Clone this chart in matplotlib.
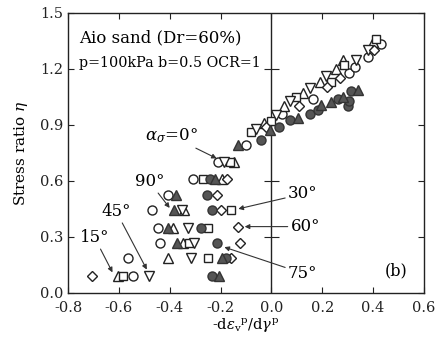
import matplotlib
matplotlib.use("Agg")
import matplotlib.pyplot as plt

plt.rcParams['font.family'] = ['DejaVu Serif']
plt.rcParams['mathtext.fontset'] = 'dejavuserif'

# Series: loading direction alpha_sigma
s0_x = [-0.545, -0.563, -0.438, -0.447, -0.470, -0.405, -0.310, -0.209,
        -0.098, 0.040, 0.163, 0.307, 0.327, 0.380, 0.430]
s0_y = [0.093, 0.185, 0.266, 0.350, 0.444, 0.524, 0.610, 0.700,
        0.790, 0.960, 1.040, 1.175, 1.210, 1.265, 1.335]

s15_x = [-0.604, -0.408, -0.346, -0.388, -0.345, -0.196, -0.146,
         -0.030, 0.050, 0.125, 0.190, 0.255, 0.280, 0.400]
s15_y = [0.093, 0.185, 0.266, 0.350, 0.444, 0.610, 0.700,
         0.910, 1.000, 1.070, 1.130, 1.200, 1.245, 1.345]

s30_x = [-0.585, -0.248, -0.324, -0.248, -0.157, -0.268, -0.164,
         -0.080, 0.000, 0.098, 0.235, 0.285, 0.410]
s30_y = [0.093, 0.185, 0.266, 0.350, 0.444, 0.610, 0.700,
         0.860, 0.920, 1.050, 1.130, 1.220, 1.360]

s45_x = [-0.483, -0.317, -0.303, -0.327, -0.350, -0.188,
         -0.060, 0.020, 0.072, 0.150, 0.215, 0.333, 0.380]
s45_y = [0.093, 0.185, 0.266, 0.350, 0.444, 0.700,
         0.875, 0.950, 1.030, 1.095, 1.160, 1.245, 1.300]

s60_x = [-0.706, -0.160, -0.125, -0.130, -0.199, -0.212, -0.176,
         -0.020, 0.110, 0.220, 0.268, 0.405]
s60_y = [0.093, 0.185, 0.266, 0.355, 0.444, 0.524, 0.610,
         0.890, 1.000, 1.100, 1.150, 1.300]

s75_x = [-0.235, -0.180, -0.212, -0.275, -0.235, -0.255, -0.240,
         -0.040, 0.030, 0.072, 0.150, 0.183, 0.262, 0.300, 0.307, 0.314]
s75_y = [0.093, 0.185, 0.266, 0.350, 0.444, 0.524, 0.610,
         0.820, 0.890, 0.925, 0.960, 0.980, 1.040, 1.000, 1.030, 1.080]

s90_x = [-0.206, -0.193, -0.373, -0.405, -0.382, -0.375, -0.220, -0.130,
         -0.007, 0.105, 0.196, 0.235, 0.281, 0.340]
s90_y = [0.093, 0.185, 0.266, 0.350, 0.444, 0.524, 0.610, 0.790,
         0.870, 0.934, 1.005, 1.020, 1.050, 1.085]

xticks = [-0.8, -0.6, -0.4, -0.2, 0.0, 0.2, 0.4, 0.6]
yticks = [0.0, 0.3, 0.6, 0.9, 1.2, 1.5]

fig = plt.figure(figsize=(4.43, 3.45), dpi=100)
ax = fig.add_axes([0.1535, 0.151, 0.8035, 0.812])

ms = 6.5
open_kw = dict(linestyle='none', markerfacecolor='white', markeredgecolor='#222222',
               markersize=ms, markeredgewidth=1.0)
fill_kw = dict(linestyle='none', markerfacecolor='#555555', markeredgecolor='#333333',
               markersize=ms, markeredgewidth=1.0)

ax.plot(s0_x, s0_y, marker='o', **open_kw)
ax.plot(s15_x, s15_y, marker='^', **open_kw)
ax.plot(s30_x, s30_y, marker='s', **dict(open_kw, markersize=5.5))
ax.plot(s45_x, s45_y, marker='v', **open_kw)
ax.plot(s60_x, s60_y, marker='D', **dict(open_kw, markersize=5.5))
ax.plot(s75_x, s75_y, marker='o', **fill_kw)
ax.plot(s90_x, s90_y, marker='^', **fill_kw)

ax.set_xlim(-0.8, 0.6)
ax.set_ylim(0.0, 1.5)
ax.set_xticks(xticks)
ax.set_yticks(yticks)
ax.set_xticklabels([f"{v:.1f}" for v in xticks])
ax.set_yticklabels([f"{v:.1f}" for v in yticks])
ax.tick_params(direction='in', top=True, right=True, length=4, width=0.8,
               labelsize=10.5, colors='#222222')
ax.tick_params(axis='x', pad=6)
for sp in ax.spines.values():
    sp.set_linewidth(1.0)
    sp.set_color('#222222')

# vertical line at zero with cross ticks
ax.axvline(0.0, color='#222222', lw=1.0, zorder=1)
ax.hlines(yticks[1:-1], -0.03, 0.03, color='#222222', lw=0.8, zorder=1)

ax.set_xlabel(r"-d$\varepsilon_{\rm v}{}^{\rm p}$/d$\gamma^{\rm p}$", fontsize=10.5, labelpad=1)
ax.set_ylabel(r"Stress ratio $\eta$", fontsize=11, labelpad=7)

ax.text(-0.755, 1.365, "Aio sand (Dr=60%)", fontsize=12, va='center', ha='left')
ax.text(-0.755, 1.23, "p=100kPa b=0.5 OCR=1", fontsize=10.3, va='center', ha='left')

akw = dict(arrowprops=dict(arrowstyle='-|>', color='#333333', lw=0.8,
                           mutation_scale=7, shrinkA=0, shrinkB=0),
           fontsize=12, va='center')
ax.annotate(r"$\alpha_\sigma$=0°", xy=(-0.215, 0.72), xytext=(-0.29, 0.84),
            ha='right', **akw)
ax.annotate("90°", xy=(-0.40, 0.455), xytext=(-0.48, 0.595), ha='center', **akw)
ax.annotate("45°", xy=(-0.49, 0.125), xytext=(-0.61, 0.435), ha='center', **akw)
ax.annotate("15°", xy=(-0.625, 0.11), xytext=(-0.695, 0.295), ha='center', **akw)
ax.annotate("30°", xy=(-0.13, 0.45), xytext=(0.065, 0.53), ha='left', **akw)
ax.annotate("60°", xy=(-0.105, 0.355), xytext=(0.075, 0.355), ha='left', **akw)
ax.annotate("75°", xy=(-0.185, 0.245), xytext=(0.065, 0.105), ha='left', **akw)
ax.text(0.49, 0.12, "(b)", fontsize=11.5, ha='center', va='center')

fig.savefig("out.png", dpi=100)
